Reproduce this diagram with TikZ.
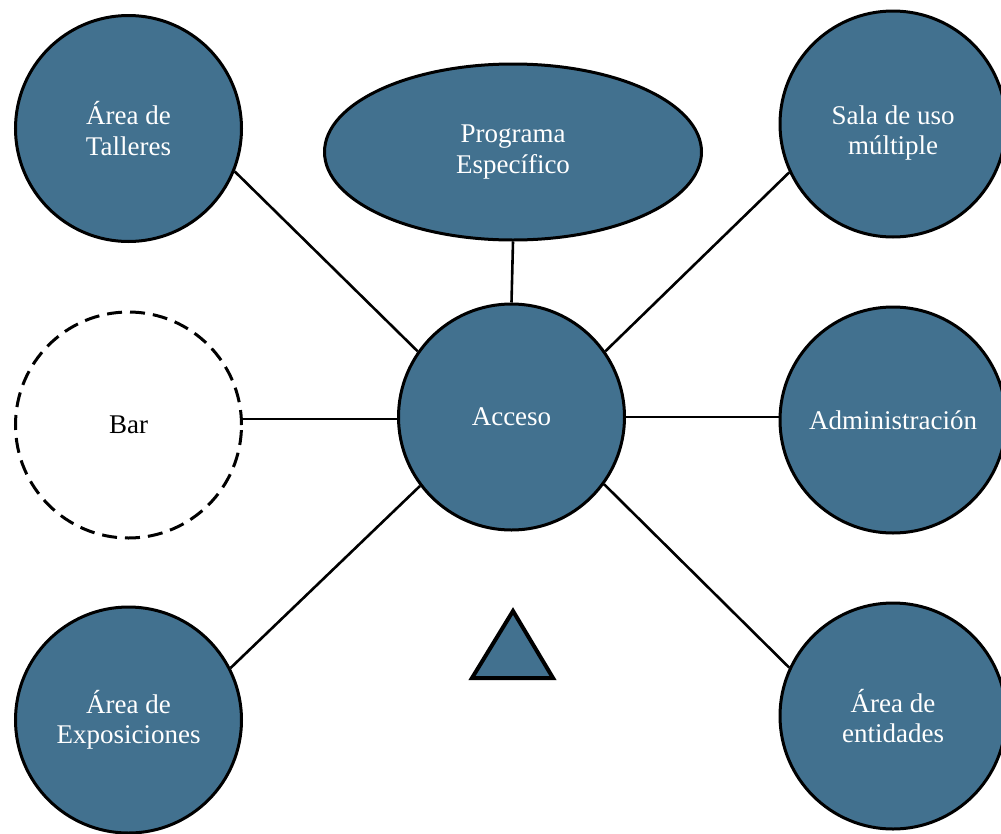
\documentclass[tikz,border=0pt]{standalone}
\usepackage{fontspec}
\setmainfont{Liberation Serif}
\usetikzlibrary{shapes.geometric}
\definecolor{nodeblue}{HTML}{42718F}
\begin{document}
\begin{tikzpicture}[x=1pt,y=-1pt,
  room/.style={circle, draw=black, line width=3pt, fill=nodeblue, text=white,
    minimum size=226pt, inner sep=0pt, align=center,
    font=\fontsize{27}{30.5}\selectfont},
  roomtext/.style={text=white, inner sep=0pt, align=center,
    font=\fontsize{27}{30.5}\selectfont},
  barroom/.style={circle, draw=black, line width=3pt, dash pattern=on 15pt off 8pt,
    fill=white, text=black, minimum size=226pt, inner sep=0pt, align=center,
    font=\fontsize{27}{30.5}\selectfont},
  progroom/.style={ellipse, draw=black, line width=3pt, fill=nodeblue, text=white,
    minimum width=377pt, minimum height=176pt, inner sep=0pt, align=center,
    font=\fontsize{27}{30.5}\selectfont},
  link/.style={draw=black, line width=2.6pt},
  marker/.style={draw=black, line width=4pt, fill=nodeblue, line join=miter}]
\useasboundingbox (0,0) rectangle (1001,833);
\node[room] (tal) at (128.5,128.5) {Área de\\Talleres};
\node[progroom] (prog) at (513,152) {Programa\\Específico};
\node[room] (sala) at (893,124) {};
\node[roomtext] (salatext) at ([yshift=-9pt]sala.center) {Sala de uso\\múltiple};
\node[barroom] (bar) at (128.5,425) {Bar};
\node[room] (acc) at (511.5,417) {Acceso};
\node[room] (adm) at (893,420) {Administración};
\node[room] (exp) at (128.5,720) {Área de\\Exposiciones};
\node[room] (ent) at (893,716) {Área de\\entidades};
\draw[link] (tal.-22) -- (acc.145);
\draw[link] (sala.205) -- (acc.35);
\draw[link] (acc.181) -- (acc.181 -| bar.east);
\draw[link] (acc.east) -- (acc.east -| adm.west);
\draw[link] (exp.27) -- (acc.217);
\draw[link] (ent.155) -- (acc.-36);
\draw[link] (prog.south) -- (acc.north);
\draw[marker] (472,678) -- (513,611) -- (553,678) -- cycle;
\end{tikzpicture}
\end{document}
